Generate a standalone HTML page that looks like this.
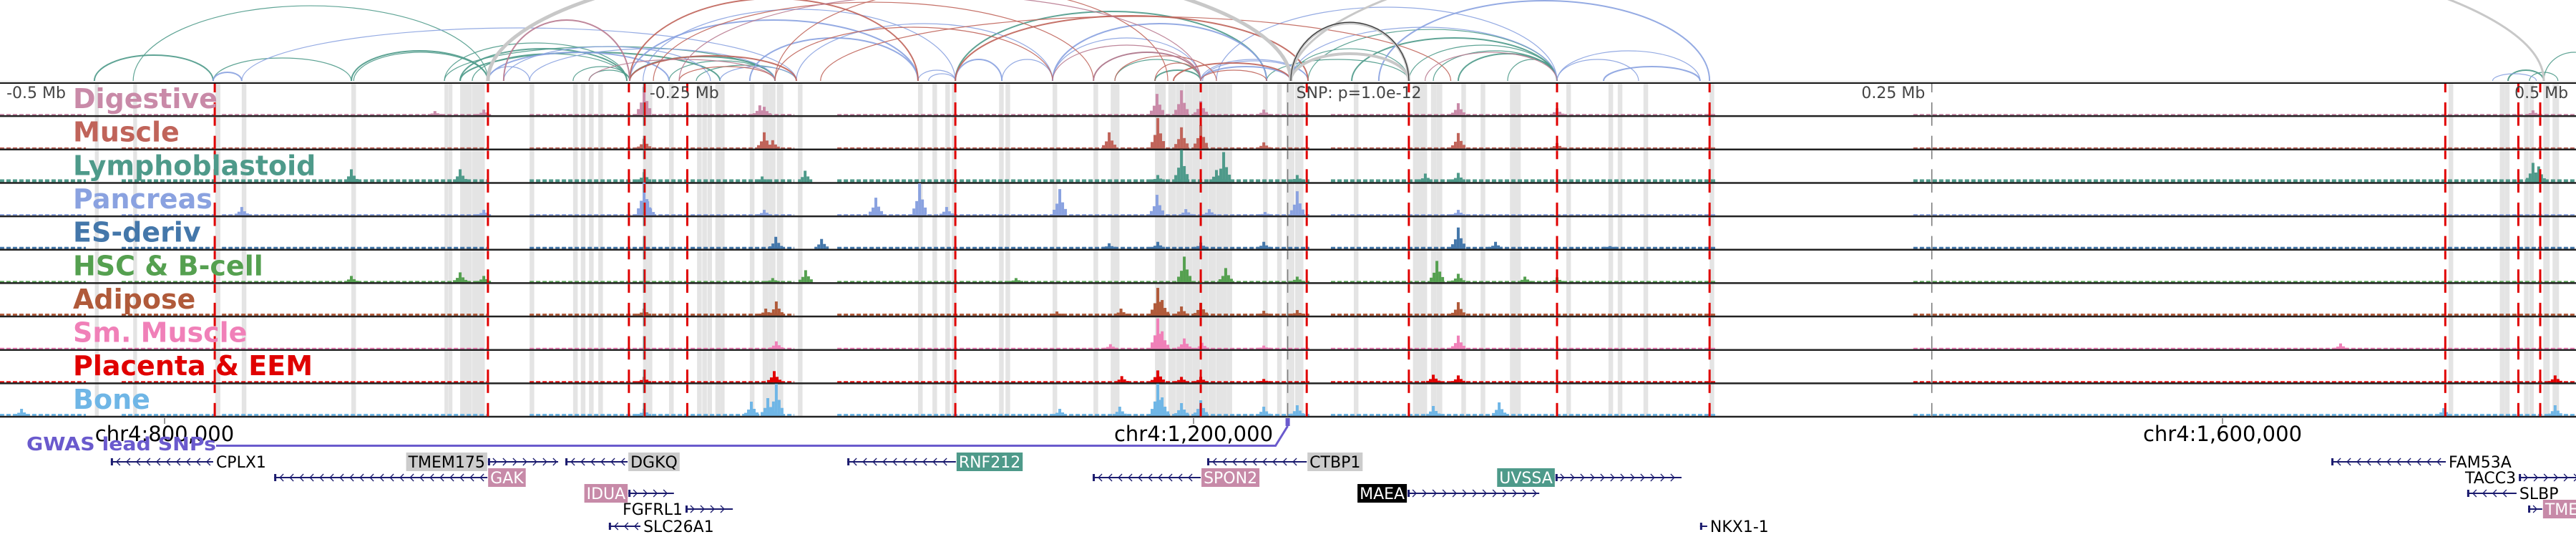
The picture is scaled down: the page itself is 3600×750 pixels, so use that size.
<!DOCTYPE html>
<html><head><meta charset="utf-8"><style>
html,body{margin:0;padding:0;background:#fff;width:3600px;height:750px;overflow:hidden}
svg{display:block}
text{font-family:"DejaVu Sans","Liberation Sans",sans-serif}
</style></head><body>
<svg id="chart" width="3600" height="750" viewBox="0 0 3600 750" xmlns="http://www.w3.org/2000/svg">
<g id="bands"></g>
<g id="arcs"></g>
<g id="tracks"></g>
<g id="vlines"></g>
<g id="labels"></g>
<g id="axis"></g>
<g id="genes"></g>
</svg>
<script>
// ---------- data (kb positions on chr4) ----------
const trackNames = ["Digestive","Muscle","Lymphoblastoid","Pancreas","ES-deriv","HSC & B-cell","Adipose","Sm. Muscle","Placenta & EEM","Bone"];
const trackColors = ["#c98aa8","#c0645a","#4e9a8a","#8aa2e0","#4477aa","#55a050","#b05a3a","#f080b8","#e00000","#6fb6e6"];
const baseHeights = [2,2,4,2,3,2,3,2,2,3];
const coverageStart = [736,783.3,822.3,941.9,1061.5,1253.4,1479.8];
const coverageEnd = [769.4,819.5,925.2,1044.8,1245,1403.6,1737.4];
const peakPos = [
 [905.1,924.1,986.4,1031.4,1033.1,1185.8,1195.3,1202.8,1227.3,1302.9,1341.3,1720.7],
 [986.4,1033.1,1036.4,1167.2,1186.1,1195.3,1202.8,1227.3,1302.9,1341.3],
 [872.6,914.9,986.4,1032.3,1049,1186.1,1195.3,1208.9,1211.7,1240.3,1290.1,1302.9,1720.7,1722.9],
 [830,924.1,986.4,987.8,1033.1,1076.5,1093.5,1104,1148,1185.8,1197,1206.1,1227.8,1240.3,1302.9],
 [1037.6,1055.4,1167.2,1186.1,1202.8,1227.3,1302.9,1317.4,1361.9],
 [872.6,914.9,924.1,1036.4,1049.2,1131,1196.4,1212.5,1240.3,1294.6,1302.9,1328.8,1341.3],
 [986.4,1033.7,1037.8,1146.9,1171.8,1186.1,1187.8,1195.3,1202.8,1227.3,1240.3,1302.9],
 [1037.8,1167.7,1186.1,1187.8,1196.4,1203.3,1227.3,1302.9,1645.9],
 [986.4,1037,1172.1,1186.1,1195.3,1202.8,1227.3,1293.2,1302.9,1729.3],
 [744.4,986.4,1028.1,1034.5,1037.8,1148,1171.3,1186.1,1187.8,1195.3,1202.8,1227.3,1240.3,1293.2,1318.8,1686,1729.3]
];
const peakVal = [
 [6,8,40,14,12,30,35,20,8,17,10,7],
 [14,23,12,23,43,30,33,9,22,8],
 [18,18,14,8,16,10,45,17,42,10,12,13,27,22],
 [12,8,46,20,8,25,45,12,37,29,9,9,5,34,8],
 [17,14,8,10,9,10,30,10,4],
 [9,14,9,6,17,6,36,20,8,30,12,8,7],
 [10,10,20,6,10,39,22,13,18,7,8,19],
 [11,7,43,25,15,9,5,19,8],
 [8,16,9,17,8,8,5,11,10,10],
 [10,10,20,25,45,10,13,45,26,18,22,13,15,14,19,11,15]
];
const bandKb = [772.9,787.8,819.7,830,872.6,908.8,910.4,914.9,917,919.6,922,941.9,958.8,961.8,965,968.6,986,987.8,996.1,1007,1009,1011,1014.1,1015.9,1027.5,1032.5,1035,1038,1046.2,1092.9,1098.5,1103.5,1106,1124.4,1126.9,1145.2,1161.1,1167.8,1169.4,1185,1187,1190.2,1193.3,1196.5,1199.5,1202.6,1205.7,1208.8,1211,1213,1227,1232.5,1236,1239.5,1262.3,1285.3,1289,1292.3,1294.5,1304.1,1311.6,1323,1325,1344.9,1361.3,1364.9,1374.9,1400.6,1687.9,1707.8,1709.8,1717.2,1719.2,1724.7,1728.3];
const bandWidthKb = [1.5,1.5,2,1.8,1.8,1.5,1.5,2.5,2.5,2.5,2.5,1.8,1.8,1.8,1.8,1.8,1.8,1.8,1.8,1.8,1.8,1.8,1.8,1.8,1.8,2.5,2.5,2.5,1.8,1.8,1.8,1.8,1.8,1.8,1.8,1.8,1.8,1.8,1.8,4.2,1.8,3,3,3,3,3,3,3,2,2,1.8,1.8,3.2,3.2,1.8,4.2,1.8,2.2,2.2,1.8,1.8,2.2,2.2,1.8,1.8,1.8,1.8,1.8,1.8,2,1.8,1.8,1.8,2.5,2.5];
const redKb = [819.5,925.7,980.5,986.6,1003.2,1107.4,1202.8,1244,1283.7,1341.3,1400.6,1686.6,1715,1723.5];
const grayLineKb = [986.2,1236.6,1487];
const arcStart = [772.7,787.8,818.9,872.6,873.5,908.8,914.9,919.6,908.8,914.9,958.8,965,980.8,996.1,1006.7,1107.4,1161.1,1169.4,1185,1237.8,1244.5,1261.5,1283.7,1293.2,1302.9,1322.1,1228.4,1711,1719.3,1724.9,
 818.9,830,925.7,925.7,931.8,941.9,980.8,986,1015.9,1027.5,1092.9,1097,1107.4,1125.5,1145.2,1145.2,1202.8,1203.5,1202.8,1237.8,1208.9,1272,1341.3,1341.3,1359.4,1045.6,1705,
 980.8,1037.3,990,1107.4,1185,1169.4,1192.2,1202.8,1037.3,980.8,1000,1055,
 931.8,1000,1145.2,1161.1,965,1290,
 925.7,1237.8,1237.8,1237.8,1237.8];
const arcEnd = [818.9,925.7,872.6,925.7,925.7,979.7,979.7,979.7,1037.3,1015.9,980.8,980.8,1037.3,1037.3,1045.6,1228.4,1202.8,1202.8,1202.8,1283.7,1341.3,1341.3,1341.3,1341.3,1341.3,1341.3,1283.7,1724.9,1730.4,1748.5,
 830,1045.6,941.9,996.1,1012.2,1037.3,1092.9,1107.4,1045.6,1092.9,1107.4,1107.4,1125.5,1145.2,1202.8,1228.4,1244.5,1244.5,1237.8,1341.3,1341.3,1400.6,1396.9,1373,1396.9,1145.2,1722,
 1092.9,1145.2,1161.1,1244.5,1202.8,1208.9,1237.8,1228.4,1190,1045.6,1037.3,1300,
 980.8,1202.8,1202.8,1202.8,1037.3,1341.3,
 1237.8,1283.7,1283.7,1724.9,1283.7];
const arcScore = [36,105,32,42,40,53,45,38,48,40,20,15,34,28,22,97,40,30,15,45,72,60,50,42,38,30,30,15,12,40,
 12,74,20,40,48,45,85,100,20,60,15,10,30,30,60,80,30,28,20,75,103,112,42,30,20,80,10,
 115,75,110,91,25,35,25,15,130,35,20,90,
 85,120,50,40,30,40,
 170,81,38,215,82];
const arcColor = ["t","t","t","t","t","t","t","t","t","t","t","t","t","t","t","t","t","t","t","t","t","t","t","t","t","t","t","t","t","t",
 "b","b","b","b","b","b","b","b","b","b","b","b","b","b","b","b","b","b","b","b","b","b","b","b","b","b","b",
 "r","r","r","r","r","r","r","r","r","r","r","r",
 "m","m","m","m","m","m",
 "g","g","g","g","k"];
const geneNames = ["CPLX1","TMEM175","DGKQ","RNF212","CTBP1","FAM53A","GAK","SPON2","UVSSA","TACC3","IDUA","MAEA","SLBP","FGFRL1","TMEM129","SLC26A1","NKX1-1"];
const geneStart = [779.1,925.7,955.8,1065.4,1205.3,1642.3,842.6,1160.8,1340.7,1715.2,980.3,1283.2,1695.1,1002.5,1718.8,972.7,1396.9];
const geneEnd = [818.9,953,980,1107.6,1244,1686.8,925.5,1202.8,1389.7,1748.5,998,1334.4,1714.3,1020.9,1724.3,985,1399.7];
const geneRow = [0,0,0,0,0,0,1,1,1,1,2,2,2,3,3,4,4];
const geneStrand = ["-","+","-","-","-","-","-","-","+","+","+","+","-","+","+","-","+"];
const geneLabelSide = ["R","L","R","R","R","R","R","R","L","L","L","L","R","L","R","R","R"];
const geneStyle = ["n","g","g","t","g","n","p","p","t","n","p","k","n","n","p","n","n"];
const chrTicks = [800,1200,1600];
const chrTickLabels = ["chr4:800,000","chr4:1,200,000","chr4:1,600,000"];
const relTicks = [736.6,986.6,1486.6,1736.6];
const relTickLabels = ["-0.5 Mb","-0.25 Mb","0.25 Mb","0.5 Mb"];
const snpKb = 1236.6;

// ---------- scales ----------
const NS="http://www.w3.org/2000/svg";
const X = kb => 230 + (kb - 800) * 3.595;
const TOP = 116, TH = 46.65, ARCBASE = 113;
const trackTop = i => TOP + i * TH;
const trackBase = i => TOP + (i + 1) * TH - 1.5;
const colorMap = {t:"#4e9a8a",b:"#8aa2e0",r:"#c0645a",m:"#b87a90",g:"#c8c8c8",k:"#222"};
function el(tag, attrs, parent){const e=document.createElementNS(NS,tag);for(const k in attrs)e.setAttribute(k,attrs[k]);parent.appendChild(e);return e;}

// bands
const gB=document.getElementById('bands');
bandKb.forEach((kb,i)=>{
  const r=el('rect',{x:X(kb),y:TOP,width:bandWidthKb[i]*3.595,height:TH*10,fill:"#e4e4e4"},gB);
  
  
});

// arcs
const gA=document.getElementById('arcs');
const defs=el('defs',{},document.getElementById('chart'));
const cp=el('clipPath',{id:'arcclip'},defs); el('rect',{x:0,y:0,width:3600,height:ARCBASE+1},cp);
gA.setAttribute('clip-path','url(#arcclip)');
arcStart.forEach((s,i)=>{
  const x1=X(s),x2=X(arcEnd[i]);const rx=(x2-x1)/2;const ry=arcScore[i];
  const c=arcColor[i];
  const big = c==='g' && (i===arcStart.length-5);
  const p=el('path',{d:`M${x1},${ARCBASE} A${rx},${ry} 0 0 1 ${x2},${ARCBASE}`,fill:"none",stroke:colorMap[c],
    'stroke-width':c==='g'?(big?5:(i===arcStart.length-2?3:4)):(i%3===0?2:1.2),opacity:c==='g'?1:0.9},gA);
  
  
});
el('line',{x1:0,y1:ARCBASE+1,x2:3600,y2:ARCBASE+1,stroke:"#ddd","stroke-width":2},gA);

// tracks
const gT=document.getElementById('tracks');
trackNames.forEach((nm,i)=>{
  const g=el('g',{},gT);
  
  
  const base=trackBase(i), col=trackColors[i];
  coverageStart.forEach((s,j)=>{
    const a=X(s), b=X(coverageEnd[j]);
    for(let x=a;x<b;x+=9){
      const w=Math.min(6,b-x);
      const r=el('rect',{x:x,y:base-baseHeights[i],width:w,height:baseHeights[i],fill:col},g);
      
      
    }
  });
  peakPos[i].forEach((p,j)=>{
    const h=peakVal[i][j], cx=X(p);
    [[0,1],[-4,0.45],[4,0.5],[-8,0.22],[8,0.25]].forEach(([dx,f])=>{
      const bh=Math.max(h*f,baseHeights[i]);
      const r=el('rect',{x:cx+dx-2,y:base-bh,width:4,height:bh,fill:col},g);
      
      
    });
  });
  el('line',{x1:0,y1:base+1,x2:3600,y2:base+1,stroke:"#222","stroke-width":2.5},g);
});
el('line',{x1:0,y1:TOP,x2:3600,y2:TOP,stroke:"#111","stroke-width":2},gT);

// vertical lines
const gV=document.getElementById('vlines');
for(let i=0;i<10;i++){
  const t=trackTop(i);
  redKb.forEach(kb=>{
    [[t+1,t+13],[t+27,t+TH-1]].forEach(([a,b])=>{
      const l=el('line',{x1:X(kb),y1:a,x2:X(kb),y2:b,stroke:"#e00000","stroke-width":3},gV);
      
      
    });
  });
  grayLineKb.forEach(kb=>{
    [[t+1,t+13],[t+27,t+TH-1]].forEach(([a,b])=>{
      const l=el('line',{x1:X(kb),y1:a,x2:X(kb),y2:b,stroke:"#777","stroke-width":1.5},gV);
      
      
    });
  });
}

// labels
const gL=document.getElementById('labels');
trackNames.forEach((nm,i)=>{
  const tx=el('text',{x:102,y:trackTop(i)+35,'font-size':38,'font-weight':'bold',fill:trackColors[i]},gL);
  tx.textContent=nm;
  
  
});
relTicks.forEach((kb,i)=>{
  const right=i>=2;
  const tx=el('text',{x:right?X(kb)-8:X(kb)+7,y:137,'font-size':22,fill:"#444",'text-anchor':right?'end':'start'},gL);
  tx.textContent=relTickLabels[i];
  
  
});
{const tx=el('text',{x:X(snpKb)+12,y:137,'font-size':22,fill:"#444"},gL);tx.textContent="SNP: p=1.0e-12";
 
 }

// axis
const gX=document.getElementById('axis');
chrTicks.forEach((kb,i)=>{
  el('line',{x1:X(kb),y1:584,x2:X(kb),y2:592,stroke:"#333","stroke-width":1},gX);
  const tx=el('text',{x:X(kb),y:616,'font-size':29,fill:"#000",'text-anchor':'middle'},gX);
  tx.textContent=chrTickLabels[i];
  
  
});
{const tx=el('text',{x:37,y:629,'font-size':26,'font-weight':'bold',fill:"#6a5acd",textLength:265,lengthAdjust:'spacingAndGlyphs'},gX);
 tx.textContent="GWAS lead SNPs";
 
 
 const p=el('path',{d:`M302,622.5 L${X(snpKb)-17},622.5 L${X(snpKb)},595`,fill:"none",stroke:"#6a5acd","stroke-width":3},gX);
 
 
 const r=el('rect',{x:X(snpKb)-3,y:584,width:6,height:11,fill:"#6a5acd"},gX);
 
 }

// genes
const gG=document.getElementById('genes');
const rowY=[645,667,689,711,735];
const bgMap={n:null,g:"#cccccc",t:"#4e9a8a",p:"#c78aa8",k:"#000"};
const fgMap={n:"#000",g:"#000",t:"#fff",p:"#fff",k:"#fff"};
geneNames.forEach((nm,i)=>{
  const g=el('g',{},gG);
  
  
  const y=rowY[geneRow[i]], x1=X(geneStart[i]), x2=X(geneEnd[i]);
  el('line',{x1:x1,y1:y,x2:x2,y2:y,stroke:"#1a1a6e","stroke-width":2},g);
  el('rect',{x:x1,y:y-5,width:3,height:10,fill:"#1a1a6e"},g);
  for(let x=x1+10;x<x2-4;x+=14){
    const d=geneStrand[i]==='+'?`M${x-3},${y-5} L${x+2},${y} L${x-3},${y+5}`:`M${x+3},${y-5} L${x-2},${y} L${x+3},${y+5}`;
    el('path',{d:d,fill:"none",stroke:"#1a1a6e","stroke-width":1.3},g);
  }
  const side=geneLabelSide[i];
  const tx=el('text',{x:side==='R'?x2+4:x1-4,y:y+8,'font-size':22,fill:fgMap[geneStyle[i]],'text-anchor':side==='R'?'start':'end'},g);
  tx.textContent=nm;
  const bg=bgMap[geneStyle[i]];
  if(bg){
    const w=tx.getComputedTextLength()+6;
    const bx=side==='R'?x2+1:x1-1-w;
    const r=el('rect',{x:bx,y:y-13,width:w,height:26,fill:bg},g);
    g.insertBefore(r,tx);
    tx.setAttribute('x',side==='R'?bx+3:bx+w-3);
  }
});
</script>
</body></html>
